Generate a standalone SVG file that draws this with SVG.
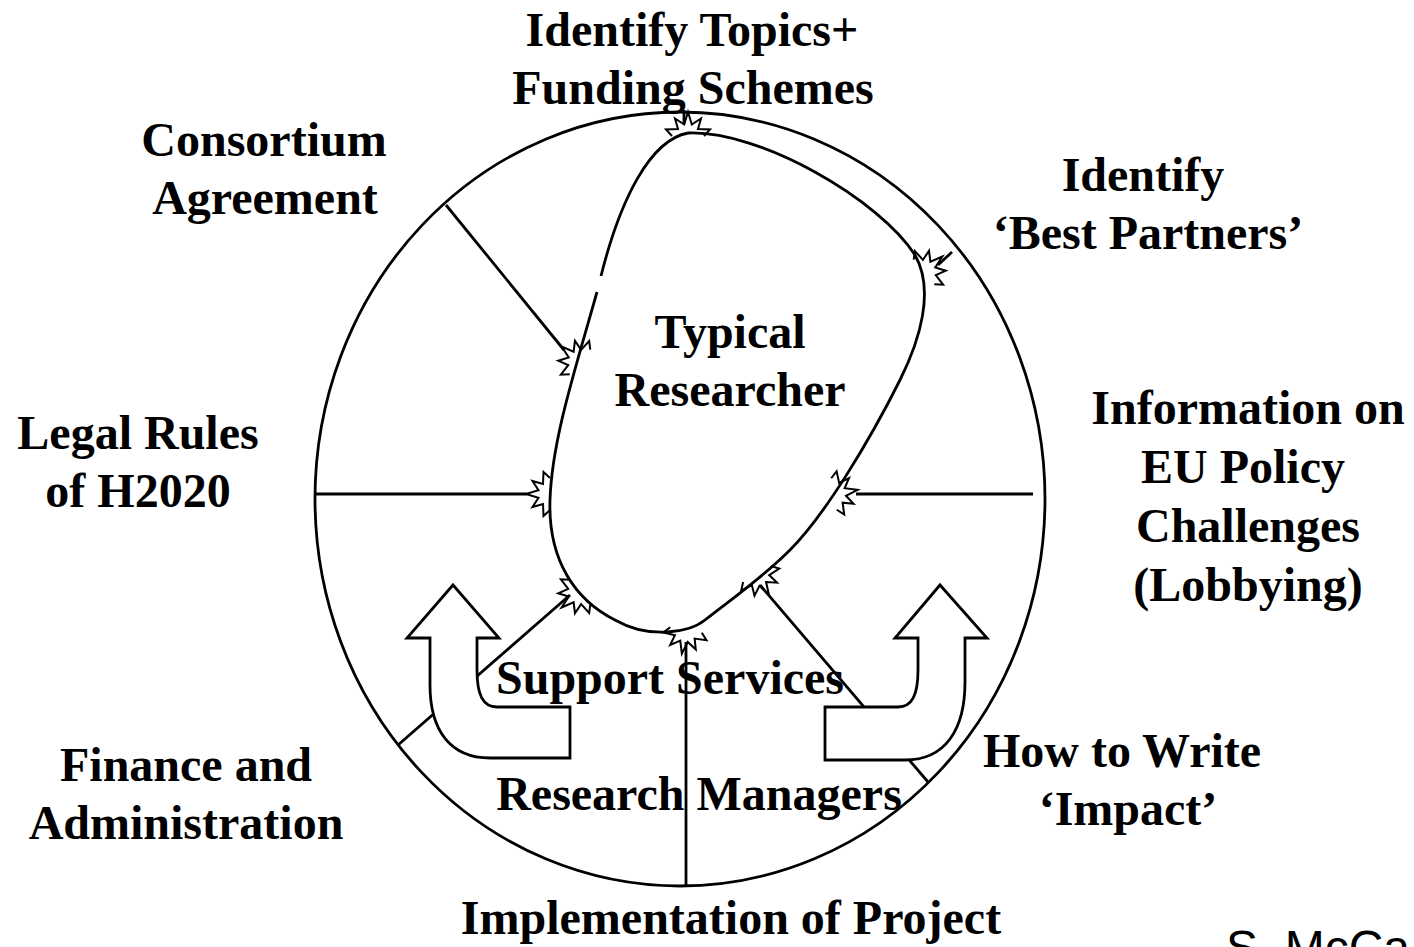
<svg xmlns="http://www.w3.org/2000/svg" width="1414" height="947" viewBox="0 0 1414 947">
<style>
.lbl{font-family:"Liberation Serif","Times New Roman",serif;font-weight:bold;font-size:48px;fill:#000;text-anchor:middle}
.ln{stroke:#000;stroke-width:2.8;fill:none}
.burst{stroke:#000;stroke-width:2;fill:none;stroke-linejoin:miter}
.arrow{stroke:#000;stroke-width:2.8;fill:#fff}
.sig{font-family:"Liberation Sans",Arial,sans-serif;font-size:48px;fill:#000}
</style>
<defs>
<polyline id="burst" points="0,-16 6.5,-22 7,-10 17.5,-13 11.5,-3.8 24,0 11.5,3.8 17.5,13 7,10 6.5,22 0,16"/>
</defs>
<rect width="1414" height="947" fill="#fff"/>
<g id="circle">
<ellipse cx="680" cy="499" rx="365" ry="387" class="ln" stroke-width="3.2"/>
</g>
<g id="connectors">
<line x1="684" y1="110" x2="684" y2="124" class="ln"/>
<line x1="952" y1="252" x2="938" y2="265" class="ln"/>
<line x1="446" y1="205" x2="564" y2="350" class="ln"/>
<line x1="316" y1="494" x2="527" y2="494" class="ln"/>
<line x1="856" y1="494" x2="1033" y2="494" class="ln"/>
<line x1="570" y1="595" x2="398" y2="745" class="ln"/>
<line x1="760" y1="585" x2="928" y2="782" class="ln"/>
<line x1="686" y1="642" x2="686" y2="886" class="ln" stroke-width="3.4"/>
</g>
<g id="researcher">
<path class="ln" d="M 688,133 C 760,130 880,200 915,255 C 935,290 920,340 900,380 C 870,440 825,515 790,550 C 760,580 730,600 705,620 C 690,632 650,640 615,620 C 575,600 548,560 550,500 C 552,440 575,370 597,292"/>
<path class="ln" d="M 601,276 C 620,200 650,140 688,133"/>
<use href="#burst" class="burst" transform="translate(688,136) rotate(-90)"/>
<use href="#burst" class="burst" transform="translate(924,272) rotate(-40)"/>
<use href="#burst" class="burst" transform="translate(580,362) rotate(-140)"/>
<use href="#burst" class="burst" transform="translate(550,494) rotate(180)"/>
<use href="#burst" class="burst" transform="translate(834,494) rotate(-10)"/>
<use href="#burst" class="burst" transform="translate(580,592) rotate(140)"/>
<use href="#burst" class="burst" transform="translate(686,630) rotate(100)"/>
<use href="#burst" class="burst" transform="translate(757,574) rotate(60)"/>
<text class="lbl" x="730" y="348">Typical</text>
<text class="lbl" x="730" y="406">Researcher</text>
</g>
<g id="arrow-left">
<path class="arrow" d="M 453,585 L 499,638 L 477,638 L 477,670 C 477,695 483,707 497,707 L 570,707 L 570,758 L 490,758 C 450,758 430,730 430,685 L 430,638 L 407,638 Z"/>
</g>
<g id="arrow-right">
<path class="arrow" d="M 940,585 L 987,638 L 965,638 L 965,682 C 965,730 945,760 905,760 L 825,760 L 825,707 L 898,707 C 912,707 918,695 918,670 L 918,638 L 895,638 Z"/>
</g>
<g id="topics">
<text class="lbl" x="692" y="46">Identify Topics+</text>
<text class="lbl" x="693" y="104">Funding Schemes</text>
</g>
<g id="consortium">
<text class="lbl" x="264" y="156">Consortium</text>
<text class="lbl" x="265" y="214">Agreement</text>
</g>
<g id="partners">
<text class="lbl" x="1143" y="191">Identify</text>
<text class="lbl" x="1148" y="249">‘Best Partners’</text>
</g>
<g id="legal">
<text class="lbl" x="138" y="449">Legal Rules</text>
<text class="lbl" x="138" y="507">of H2020</text>
</g>
<g id="policy">
<text class="lbl" x="1248" y="424">Information on</text>
<text class="lbl" x="1243" y="483">EU Policy</text>
<text class="lbl" x="1248" y="542">Challenges</text>
<text class="lbl" x="1248" y="601">(Lobbying)</text>
</g>
<g id="support">
<text class="lbl" x="670" y="694">Support Services</text>
</g>
<g id="managers">
<text class="lbl" x="699" y="810">Research Managers</text>
</g>
<g id="finance">
<text class="lbl" x="186" y="781">Finance and</text>
<text class="lbl" x="186" y="839">Administration</text>
</g>
<g id="impact">
<text class="lbl" x="1122" y="767">How to Write</text>
<text class="lbl" x="1128" y="825">‘Impact’</text>
</g>
<g id="implementation">
<text class="lbl" x="731" y="934">Implementation of Project</text>
</g>
<text class="sig" x="1226" y="964">S. McCa</text>
</svg>
